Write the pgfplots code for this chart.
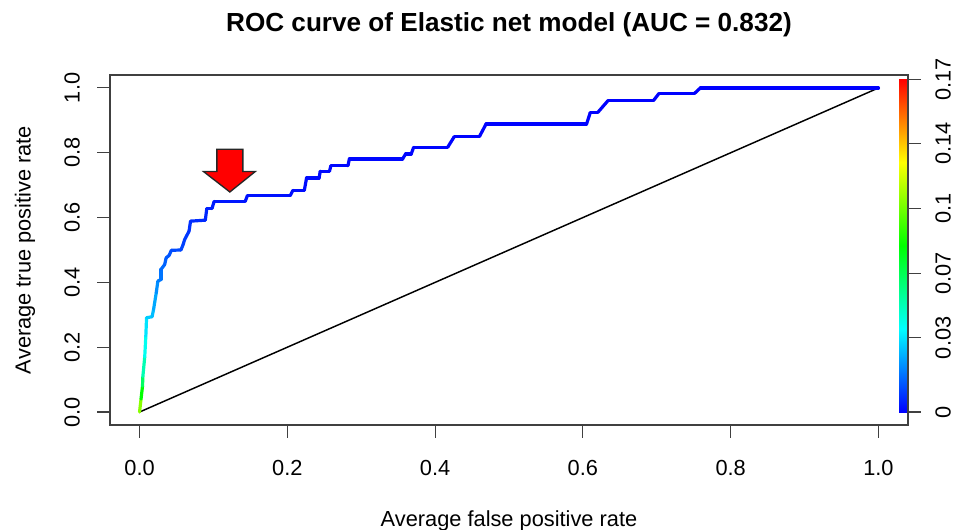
\documentclass[border=0pt]{standalone}
\usepackage{pgfplots}
\pgfplotsset{compat=1.18}
\usepackage{fontspec}
\setmainfont{Liberation Sans}
\pgfplotsset{
  colormap={rbow}{rgb255=(0,0,255) rgb255=(0,255,255) rgb255=(0,255,0) rgb255=(255,255,0) rgb255=(255,0,0)}
}
\begin{document}
\begin{tikzpicture}
\fontsize{16.35}{19.6}\selectfont
\begin{axis}[
  at={(0,0)}, anchor=south west,
  scale only axis, width=598.5pt, height=262.5pt,
  xmin=-0.04, xmax=1.04, ymin=-0.04, ymax=1.04,
  axis line style={black!75, line width=0.8pt},
  xtick={0,0.2,0.4,0.6,0.8,1}, ytick={0,0.2,0.4,0.6,0.8,1},
  xticklabels={0.0,0.2,0.4,0.6,0.8,1.0},
  yticklabels={0.0,0.2,0.4,0.6,0.8,1.0},
  xtick pos=bottom, ytick pos=left,
  tick align=outside, major tick length=9.4pt,
  tick style={black!75, line width=0.8pt},
  /pgf/number format/assume math mode=true,
  ticklabel style={font=\fontsize{16.35}{19.6}\selectfont},
  xticklabel style={anchor=center, yshift=-22.8pt},
  yticklabel style={xshift=-19.1pt, rotate=90, anchor=center},
  colormap name=rbow, point meta min=0, point meta max=1,
  title={ROC curve of Elastic net model (AUC = 0.832)},
  title style={at={(axis description cs:0.5,1.12)}, anchor=center, font=\bfseries\fontsize{19.6}{23.5}\selectfont},
  xlabel={Average false positive rate},
  xlabel style={at={(axis description cs:0.5,-0.2743)}, anchor=center, font=\fontsize{16.35}{19.6}\selectfont},
  ylabel={Average true positive rate},
  ylabel style={at={(axis description cs:-0.1065,0.5)}, anchor=center, font=\fontsize{16.35}{19.6}\selectfont},
]
% diagonal reference line
\addplot[black, line width=1.1pt] coordinates {(0,0) (1,1)};
% ROC curve coloured by cutoff (t = position on colour scale)
\addplot[mesh, point meta=explicit, line width=2.4pt, line cap=round, line join=round] table[meta=t] {
x y t
0 0 0.72
0.002 0.04 0.55
0.004 0.08 0.45
0.0045 0.11 0.36
0.007 0.17 0.29
0.0085 0.235 0.24
0.0095 0.291 0.21
0.017 0.294 0.19
0.019 0.317 0.18
0.0226 0.368 0.15
0.0248 0.404 0.13
0.029 0.409 0.12
0.029 0.44 0.11
0.034 0.455 0.10
0.036 0.476 0.09
0.04 0.483 0.085
0.043 0.499 0.075
0.056 0.50 0.07
0.059 0.517 0.065
0.061 0.532 0.06
0.064 0.545 0.055
0.067 0.558 0.05
0.069 0.589 0.045
0.089 0.592 0.04
0.091 0.628 0.035
0.098 0.628 0.03
0.101 0.650 0.025
0.143 0.650 0.02
0.146 0.668 0.018
0.204 0.668 0.015
0.2075 0.684 0.013
0.223 0.684 0.012
0.226 0.722 0.011
0.243 0.722 0.01
0.2445 0.743 0.009
0.257 0.743 0.008
0.259 0.76 0.008
0.282 0.76 0.007
0.284 0.781 0.007
0.356 0.781 0.006
0.36 0.796 0.006
0.3676 0.796 0.005
0.371 0.817 0.005
0.417 0.817 0.004
0.426 0.85 0.004
0.46 0.85 0.003
0.469 0.889 0.003
0.605 0.889 0.002
0.61 0.924 0.002
0.62 0.924 0.002
0.634 0.961 0.001
0.6955 0.961 0.001
0.703 0.983 0.001
0.751 0.983 0
0.759 1.0 0
1.0 1.0 0
};
% red arrow marker
\addplot[fill=red, draw=black!85, line width=1pt] coordinates {
(0.1046,0.811) (0.1398,0.811) (0.1398,0.742) (0.1566,0.742) (0.1222,0.679) (0.0866,0.742) (0.1046,0.742)} --cycle;
% colour key bar
\addplot[patch, patch type=rectangle, shader=interp, point meta=explicit] coordinates {
(1.0275,0) [0] (1.0375,0) [0] (1.0375,1.027) [1] (1.0275,1.027) [1]};
\end{axis}
\begin{axis}[
  at={(0,0)}, anchor=south west,
  scale only axis, width=598.5pt, height=262.5pt,
  xmin=-0.04, xmax=1.04, ymin=-0.04, ymax=1.04,
  axis y line*=right, hide x axis,
  axis line style={black!75, line width=0.8pt},
  ytick={0,0.229,0.428,0.629,0.828,1.027},
  yticklabels={0,0.03,0.07,0.1,0.14,0.17},
  tick align=outside, major tick length=9.4pt,
  tick style={black!75, line width=0.8pt},
  ticklabel style={font=\fontsize{16.35}{19.6}\selectfont},
  yticklabel style={xshift=16.85pt, rotate=90, anchor=center},
]
\addplot[draw=none] coordinates {(0,0)};
\end{axis}
\pgfresetboundingbox
\useasboundingbox (-82.5pt,-78.75pt) rectangle (638.25pt,318.75pt);
\end{tikzpicture}
\end{document}
